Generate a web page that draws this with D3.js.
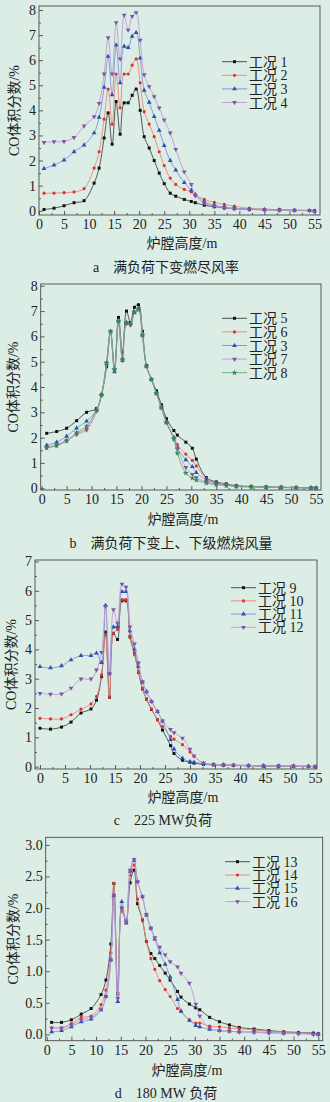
<!DOCTYPE html>
<html>
<head>
<meta charset="utf-8">
<script src="https://cdn.jsdelivr.net/npm/d3@7"></script>
<style>
  body { margin: 0; background: #dcede6; }
  svg { display: block; }
  text { font-family: "Liberation Serif", "Noto Sans CJK SC", serif; fill: #222; }
</style>
</head>
<body>
<svg id="chart" width="330" height="1102"></svg>
<script>
// ---- data: a 满负荷下变燃尽风率 ----
const xA = [1,3,5,7,9,11,12,13,13.8,14.6,15.4,16.2,17,17.8,18.6,19.4,20.2,21,22,23,24,25,26.2,27.3,29,30.4,31.2,33,35,37,39,42,45,48,51,54,55]
const a1 = [0.05,0.1,0.2,0.32,0.4, 1.1,1.7,2.9, 3.9,2.65,4.35,3.05, 4.3,4.3,4.6,4.85, 4.0,2.95,2.5,2.0, 1.5,1.08,0.7,0.58, 0.45,0.37,0.32,0.22, 0.16,0.11,0.08,0.05, 0.04,0.03,0.02,0.01,0.0]
const a2 = [0.7,0.7,0.72,0.75,0.88, 1.7,2.35,3.65, 4.85,3.45,5.45,4.1, 5.45,5.45,5.8,6.05, 5.1,3.95,3.45,2.95, 2.35,1.8,1.3,1.05, 0.85,0.75,0.62,0.45, 0.33,0.25,0.18,0.1, 0.07,0.04,0.02,0.01,0.0]
const a3 = [1.68,1.82,2.02,2.35,2.62, 3.1,3.72,4.92, 6.15,4.62,6.6,5.1, 6.55,6.5,6.95,7.1, 6.08,4.8,4.32,3.75, 3.2,2.6,2.0,1.62, 1.12,0.82,0.65,0.35, 0.22,0.15,0.1,0.07, 0.04,0.03,0.01,0.0,-0.02]
const a4 = [2.72,2.75,2.76,2.92,3.38, 3.75,4.28,5.45, 6.9,5.45,7.5,6.05, 7.8,7.2,7.75,7.9, 6.8,5.42,4.95,4.55, 4.1,3.62,3.1,2.45, 1.55,1.05,0.6,0.3, 0.18,0.12,0.08,0.05, 0.04,0.02,0.01,0.0,-0.02]

// ---- data: b 满负荷下变上、下级燃烧风量 ----
const xB = [1,3,5,7,9,11,12,13,13.8,14.6,15.4,16.2,17,17.8,18.6,19.4,20.2,21,22,23,24,25,26.5,27.2,28.9,30.2,31,33,35,37,39,42,45,48,51,54,55]
const b5 = [2.17,2.24,2.37,2.67,3.0, 3.15,3.7,4.8, 6.2,4.7,6.75,5.35, 7.0,6.55,7.15,7.25, 6.2,4.85,4.3,3.85, 3.3,2.75,2.28,2.1, 1.82,1.58,1.15,0.42, 0.25,0.17,0.1,0.07, 0.05,0.04,0.03,0.02,0.01]
const b6 = [1.62,1.72,1.9,2.15,2.35, 3.05,3.68,4.95, 6.2,4.65,6.6,5.05, 6.5,6.45,6.95,7.1, 6.05,4.82,4.3,3.75, 3.2,2.6,2.0,1.72, 1.35,1.1,0.88,0.38, 0.22,0.15,0.09,0.06, 0.04,0.03,0.02,0.01,0.0]
const b3 = [1.7,1.82,2.05,2.38,2.65, 3.1,3.7,4.92, 6.18,4.6,6.6,5.05, 6.55,6.5,6.95,7.1, 6.05,4.82,4.3,3.75, 3.2,2.6,2.0,1.6, 1.12,0.85,0.62,0.32, 0.2,0.14,0.09,0.06, 0.04,0.03,0.02,0.01,0.0]
const b7 = [1.6,1.7,1.88,2.12,2.3, 3.05,3.68,4.95, 6.2,4.65,6.6,5.05, 6.5,6.45,6.95,7.1, 6.05,4.82,4.3,3.75, 3.2,2.6,1.95,1.55, 0.82,0.55,0.42,0.25, 0.17,0.12,0.08,0.05, 0.04,0.03,0.02,0.01,0.0]
const b8 = [1.6,1.68,1.87,2.2,2.45, 3.1,3.68,4.95, 6.2,4.7,6.6,5.1, 6.55,6.5,6.95,7.05, 6.05,4.82,4.3,3.75, 3.18,2.6,1.95,1.38, 0.6,0.4,0.32,0.2, 0.14,0.1,0.07,0.05, 0.04,0.03,0.02,0.01,0.0]

// ---- data: c 225 MW负荷 ----
const xC = [0,2.1,4.3,6.2,8.2,10.2,11.3,12.3,13.1,13.9,14.7,15.5,16.4,17.2,18,18.9,19.7,20.5,21.3,22.3,23.5,24.5,26.1,26.8,28.5,30,30.8,32.7,34.7,36.7,38.7,41.7,44.7,47.7,50.7,53.7,55]
const c9  = [1.31,1.28,1.35,1.52,1.83, 1.97,2.27,3.07, 4.59,2.37,4.55,4.34, 5.66,5.66,4.44,3.87, 3.22,2.65,2.3,1.95, 1.6,1.25,0.72,0.45, 0.22,0.15,0.12,0.08, 0.06,0.05,0.04,0.03, 0.02,0.02,0.01,0.01,0.0]
const c10 = [1.65,1.63,1.63,1.77,1.96, 2.14,2.4,3.13, 4.5,2.37,4.55,4.68, 5.7,5.7,4.4,3.83, 3.24,2.67,2.31,1.97, 1.6,1.37,1.03,0.94, 0.75,0.5,0.35,0.12, 0.07,0.06,0.05,0.04, 0.03,0.02,0.01,0.01,0.0]
const c11 = [3.41,3.37,3.44,3.64,3.79, 3.79,3.87,3.55, 5.5,3.18,4.76,4.78, 5.97,5.97,4.63,4.0, 3.41,2.88,2.56,2.22, 1.88,1.55,0.92,0.6, 0.29,0.17,0.15,0.1, 0.07,0.06,0.05,0.04, 0.03,0.02,0.02,0.01,0.0]
const c12 = [2.5,2.47,2.48,2.68,2.99, 2.99,3.3,3.9, 5.47,3.18,5.36,4.9, 6.23,6.12,4.77,4.19, 3.54,2.9,2.55,2.22, 1.88,1.56,1.27,1.16, 0.97,0.6,0.37,0.12, 0.08,0.06,0.05,0.04, 0.03,0.02,0.02,0.01,0.0]

// ---- data: d 180 MW 负荷 ----
const xD = [1,3,5,7,9,11,12,13,13.6,14.4,15.2,16.1,16.9,17.7,18.4,19.4,20.2,21.1,21.9,22.9,24,25,26.5,27.2,28.9,30.2,31,33,35,37,39,42,45,48,51,54,55]
const d13 = [0.19,0.19,0.23,0.32,0.41, 0.63,0.86,1.43, 2.39,0.65,2.0,1.8, 2.4,2.6,2.07,1.81, 1.47,1.28,1.2,1.09, 0.97,0.86,0.68,0.59, 0.48,0.42,0.39,0.27, 0.2,0.15,0.11,0.085, 0.06,0.04,0.03,0.02,0.01]
const d14 = [0.105,0.105,0.17,0.27,0.29, 0.47,0.7,1.29, 2.39,0.62,1.95,1.79, 2.52,2.68,2.14,1.81, 1.47,1.2,1.03,0.85, 0.71,0.6,0.41,0.36, 0.23,0.18,0.18,0.13, 0.12,0.1,0.09,0.07, 0.05,0.04,0.03,0.01,0.0]
const d15 = [0.04,0.06,0.12,0.2,0.24, 0.39,0.6,1.18, 2.2,0.52,2.1,1.76, 2.58,2.75,2.42,2.18, 1.89,1.68,1.51,1.29, 1.11,0.91,0.55,0.37, 0.22,0.14,0.12,0.08, 0.06,0.05,0.04,0.04, 0.03,0.02,0.02,0.01,0.0]
const d16 = [0.1,0.1,0.15,0.23,0.27, 0.4,0.6,1.18, 2.2,0.57,2.0,1.78, 2.6,2.77,2.42,2.18, 1.9,1.68,1.53,1.38, 1.26,1.15,1.07,0.97, 0.81,0.48,0.29,0.1, 0.06,0.05,0.04,0.03, 0.02,0.02,0.01,0.0,0.0]

const xTicks = d3.range(0, 56, 5)

// stijl per reeks (lijnkleur, markerkleur, symbool)
const styles = {
  k: {line: "#3c3c3c", mark: "#111", sym: d3.symbolSquare, size: 9, rot: 0},
  r: {line: "#ea8274", mark: "#e0302a", sym: d3.symbolCircle, size: 8, rot: 0},
  b: {line: "#7890d0", mark: "#2d4fb4", sym: d3.symbolTriangle, size: 10, rot: 0},
  p: {line: "#bb9ad0", mark: "#8552aa", sym: d3.symbolTriangle, size: 10, rot: 180},
  g: {line: "#68a478", mark: "#2f8a4e", sym: d3.symbolStar, size: 11, rot: 0}
}

const svg = d3.select("#chart")
svg.append("rect").attr("width", 330).attr("height", 1102).attr("fill", "#dcede6")

const panels = [
  {box: {l: 39, r: 320, t: 6, b: 215}, xDom: [0, 56.1], yDom: [-0.17, 8.16],
   yTicks: d3.range(0, 8.1, 1), yMinor: d3.range(0.5, 8.1, 1), yFmt: d3.format("d"),
   yTitleX: 14, xTitle: {x: 182, y: 248}, cap: {x: 166, y: 272, t: "a\u3000满负荷下变燃尽风率"},
   leg: {x: 222, y: 61.7, dy: 13.6}, x: xA,
   series: [["工况 1", a1, "k"], ["工况 2", a2, "r"], ["工况 3", a3, "b"], ["工况 4", a4, "p"]]},
  {box: {l: 40.7, r: 321, t: 284, b: 490}, xDom: [-0.2, 56.0], yDom: [-0.07, 8.07],
   yTicks: d3.range(0, 8.1, 1), yMinor: d3.range(0.5, 8.1, 1), yFmt: d3.format("d"),
   yTitleX: 13, xTitle: {x: 183, y: 524}, cap: {x: 171, y: 548, t: "b\u3000满负荷下变上、下级燃烧风量"},
   leg: {x: 222, y: 318.3, dy: 13.6}, x: xB,
   series: [["工况 5", b5, "k"], ["工况 6", b6, "r"], ["工况 3", b3, "b"], ["工况 7", b7, "p"], ["工况 8", b8, "g"]]},
  {box: {l: 35, r: 317, t: 560, b: 769}, xDom: [-1, 55.4], yDom: [-0.08, 7.05],
   yTicks: d3.range(0, 7.1, 1), yMinor: d3.range(0.5, 7.1, 1), yFmt: d3.format("d"),
   yTitleX: 11.5, xTitle: {x: 183, y: 802}, cap: {x: 163, y: 825, t: "c\u3000225 MW负荷"},
   leg: {x: 231, y: 587.7, dy: 13.2}, x: xC,
   series: [["工况 9", c9, "k"], ["工况 10", c10, "r"], ["工况 11", c11, "b"], ["工况 12", c12, "p"]]},
  {box: {l: 45.7, r: 322.7, t: 837.3, b: 1040.7}, xDom: [-0.2, 55.9], yDom: [-0.1, 3.12],
   yTicks: d3.range(0, 3.01, 0.5), yMinor: d3.range(0.25, 3.1, 0.5), yFmt: d3.format(".1f"),
   yTitleX: 13, xTitle: {x: 187, y: 1075}, cap: {x: 166, y: 1098, t: "d\u3000180 MW 负荷"},
   leg: {x: 225, y: 861.7, dy: 13.3}, x: xD,
   series: [["工况 13", d13, "k"], ["工况 14", d14, "r"], ["工况 15", d15, "b"], ["工况 16", d16, "p"]]}
]

function drawPanel(p) {
  const bx = p.box
  const x = d3.scaleLinear().domain(p.xDom).range([bx.l, bx.r])
  const y = d3.scaleLinear().domain(p.yDom).range([bx.b, bx.t])
  const g = svg.append("g")

  // kader
  g.append("rect")
      .attr("x", bx.l).attr("y", bx.t)
      .attr("width", bx.r - bx.l).attr("height", bx.b - bx.t)
      .attr("fill", "none").attr("stroke", "#4a4a4a").attr("stroke-width", 0.9)

  // x-as (ticks naar binnen)
  g.append("g")
      .attr("transform", "translate(0," + bx.b + ")")
      .call(d3.axisBottom(x).tickValues(xTicks).tickSizeInner(-4).tickSizeOuter(0).tickPadding(4))
  g.append("g")
      .attr("transform", "translate(0," + bx.b + ")")
      .call(d3.axisBottom(x).tickValues(d3.range(2.5, 56, 5)).tickSize(-2).tickFormat(""))

  // y-as
  g.append("g")
      .attr("transform", "translate(" + bx.l + ",0)")
      .call(d3.axisLeft(y).tickValues(p.yTicks).tickFormat(p.yFmt).tickSizeInner(-4).tickSizeOuter(0).tickPadding(3))
  g.append("g")
      .attr("transform", "translate(" + bx.l + ",0)")
      .call(d3.axisLeft(y).tickValues(p.yMinor).tickSize(-2).tickFormat(""))

  g.selectAll(".domain").remove()
  g.selectAll(".tick line").attr("stroke", "#4a4a4a").attr("stroke-width", 0.9)
  g.selectAll(".tick text").style("font-size", "14px").attr("fill", "#222")
      .style("font-family", '"Liberation Serif", serif')

  // lijnen en markers
  const clipId = "clip" + Math.round(bx.t)
  svg.append("clipPath").attr("id", clipId).append("rect")
      .attr("x", bx.l).attr("y", bx.t).attr("width", bx.r - bx.l).attr("height", bx.b - bx.t)

  const line = d3.line()
      .x(function(d) { return x(d[0]) })
      .y(function(d) { return y(d[1]) })
      .curve(d3.curveCatmullRom.alpha(0.5))

  p.series.forEach(function(s) {
    const st = styles[s[2]]
    const pts = p.x.map(function(v, i) { return [v, s[1][i]] })
    g.append("path")
        .datum(pts)
        .attr("clip-path", "url(#" + clipId + ")")
        .attr("fill", "none")
        .attr("stroke", st.line)
        .attr("stroke-width", 0.85)
        .attr("d", line)
    g.append("g").selectAll("path")
        .data(pts)
        .enter()
        .append("path")
        .attr("d", d3.symbol().type(st.sym).size(st.size))
        .attr("fill", st.mark)
        .attr("transform", function(d) { return "translate(" + x(d[0]) + "," + y(d[1]) + ") rotate(" + st.rot + ")" })
  })

  // legenda
  const lg = g.append("g")
  p.series.forEach(function(s, i) {
    const st = styles[s[2]]
    const ly = p.leg.y + i * p.leg.dy
    lg.append("line")
        .attr("x1", p.leg.x).attr("x2", p.leg.x + 25)
        .attr("y1", ly).attr("y2", ly)
        .attr("stroke", st.line).attr("stroke-width", 0.9)
    lg.append("path")
        .attr("d", d3.symbol().type(st.sym).size(st.size))
        .attr("fill", st.mark)
        .attr("transform", "translate(" + (p.leg.x + 12.5) + "," + ly + ") rotate(" + st.rot + ")")
    lg.append("text")
        .attr("x", p.leg.x + 27).attr("y", ly + 5)
        .style("font-size", "14px")
        .text(s[0])
  })

  // as-titels en onderschrift
  g.append("text")
      .attr("transform", "translate(" + p.yTitleX + "," + ((bx.t + bx.b) / 2) + ") rotate(-90)")
      .attr("text-anchor", "middle").attr("dy", "0.35em")
      .style("font-size", "14px")
      .text("CO体积分数/%")
  g.append("text")
      .attr("x", p.xTitle.x).attr("y", p.xTitle.y)
      .attr("text-anchor", "middle")
      .style("font-size", "14px")
      .text("炉膛高度/m")
  g.append("text")
      .attr("x", p.cap.x).attr("y", p.cap.y)
      .attr("text-anchor", "middle")
      .style("font-size", "14px")
      .style("white-space", "pre")
      .text(p.cap.t)
}

panels.forEach(drawPanel)
</script>
</body>
</html>
